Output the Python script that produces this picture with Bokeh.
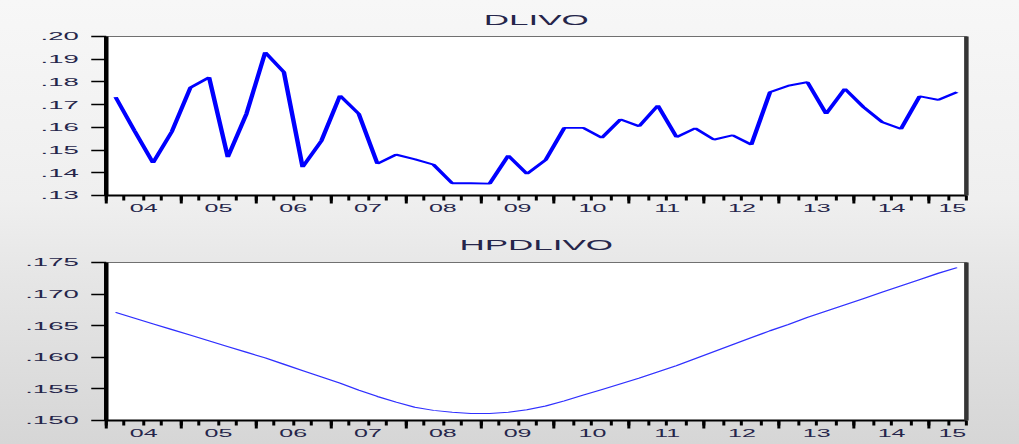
from bokeh.plotting import figure
from bokeh.models import Range1d, FixedTicker, LinearAxis, CustomJSTickFormatter, ColumnDataSource
from bokeh.layouts import column
from bokeh.embed import file_html
from bokeh.resources import INLINE

# Quarterly series, 2004Q1 - 2015Q2
year_labels = ["04", "05", "06", "07", "08", "09", "10", "11", "12", "13", "14", "15"]

dlivo = [0.1733, 0.1586, 0.1444, 0.1580, 0.1775, 0.1820, 0.1469, 0.1660,
         0.1930, 0.1843, 0.1425, 0.1540, 0.1740, 0.1660, 0.1440, 0.1480,
         0.1460, 0.1436, 0.1354, 0.1354, 0.1352, 0.1476, 0.1395, 0.1457,
         0.1598, 0.1598, 0.1554, 0.1635, 0.1605, 0.1696, 0.1557, 0.1596,
         0.1546, 0.1565, 0.1524, 0.1755, 0.1784, 0.1799, 0.1660, 0.1770,
         0.1689, 0.1623, 0.1593, 0.1737, 0.1721, 0.1755]

hpdlivo = [0.1671, 0.1662, 0.1653, 0.1644, 0.1635, 0.1626, 0.1617, 0.1608,
           0.1599, 0.1589, 0.1579, 0.1569, 0.1559, 0.1548, 0.1538, 0.1529,
           0.1521, 0.1516, 0.1513, 0.1511, 0.1511, 0.1513, 0.1517, 0.1523,
           0.1531, 0.1540, 0.1549, 0.1558, 0.1567, 0.1577, 0.1587, 0.1598,
           0.1609, 0.1620, 0.1631, 0.1642, 0.1652, 0.1663, 0.1673, 0.1683,
           0.1693, 0.1703, 0.1713, 0.1723, 0.1733, 0.1742]

dlivo_ticks = [0.13, 0.14, 0.15, 0.16, 0.17, 0.18, 0.19, 0.20]
hp_ticks = [0.150, 0.155, 0.160, 0.165, 0.170, 0.175]

n_obs = len(dlivo)
x_pos = [i + 0.5 for i in range(n_obs)]          # observation at middle of its quarter
year_bounds = list(range(0, n_obs + 1, 4))        # long ticks at year starts
quarter_bounds = list(range(0, n_obs + 1))        # short ticks at every quarter
label_pos = [4 * k + 2 for k in range(len(year_labels) - 1)] + [45.25]

# The page is drawn narrow and widened with a horizontal CSS stretch.
# Bokeh sizes the canvas from the element's on-screen box, which already
# includes the stretch, so the figure width takes it twice.
PAGE_W = 1019
CSS_W = 163
STRETCH = (PAGE_W / CSS_W) ** 0.5
FONT = "Liberation Sans"
TEXT_COLOR = "#25254a"


def panel(title, values, ticks, ndec, top, bottom, standoff, color, lw):
    p = figure(width=CSS_W, height=222, output_backend="svg", toolbar_location=None,
               x_range=Range1d(0, n_obs), y_range=Range1d(ticks[0], ticks[-1]),
               x_axis_location=None, y_axis_location=None,
               min_border_left=42, min_border_right=21,
               min_border_top=top, min_border_bottom=bottom)
    p.background_fill_color = "white"
    p.border_fill_alpha = 0
    p.outline_line_color = "#707070"
    p.outline_line_width = 1
    p.xgrid.visible = False
    p.ygrid.visible = False

    p.title.text = title
    p.title.align = "center"
    p.title.text_font = FONT
    p.title.text_font_size = "14px"
    p.title.text_font_style = "normal"
    p.title.text_color = TEXT_COLOR
    p.title.standoff = standoff

    # left value axis
    ya = LinearAxis(ticker=FixedTicker(ticks=ticks),
                    formatter=CustomJSTickFormatter(
                        code="return tick.toFixed(%d).replace(/^0/, '');" % ndec),
                    major_tick_out=6, major_tick_in=0, minor_tick_out=0, minor_tick_in=0,
                    major_tick_line_width=1.3, axis_line_width=1.8,
                    major_label_standoff=5, major_label_text_font=FONT,
                    major_label_text_font_size="11px", major_label_text_color=TEXT_COLOR)
    p.add_layout(ya, "left")

    # quarter / year tick marks
    xa = LinearAxis(ticker=FixedTicker(ticks=year_bounds, minor_ticks=quarter_bounds),
                    formatter=CustomJSTickFormatter(code="return '';"),
                    major_tick_out=8, major_tick_in=0, minor_tick_out=5, minor_tick_in=0,
                    major_tick_line_width=1.2, minor_tick_line_width=1.2,
                    axis_line_width=1.8, major_label_standoff=0,
                    major_label_text_font_size="1px")
    p.add_layout(xa, "below")

    # year labels centred in each year
    xl = LinearAxis(ticker=FixedTicker(ticks=label_pos),
                    formatter=CustomJSTickFormatter(
                        args=dict(pos=label_pos, labels=year_labels),
                        code="const i = pos.indexOf(tick); return i < 0 ? '' : labels[i];"),
                    axis_line_color=None, major_tick_line_color=None,
                    minor_tick_line_color=None, major_tick_out=0, major_tick_in=0,
                    major_label_standoff=1, major_label_text_font=FONT,
                    major_label_text_font_size="10px", major_label_text_color=TEXT_COLOR)
    p.add_layout(xl, "below")

    # dark right edge of the frame
    ra = LinearAxis(ticker=FixedTicker(ticks=[]),
                    formatter=CustomJSTickFormatter(code="return '';"),
                    axis_line_color="#353535", axis_line_width=1.8,
                    major_tick_line_color=None, minor_tick_line_color=None,
                    major_label_text_font_size="1px", major_label_standoff=0)
    p.add_layout(ra, "right")

    src = ColumnDataSource(data=dict(x=x_pos, y=values))
    p.line(x="x", y="y", source=src, line_color=color, line_width=lw)
    return p


p1 = panel("DLIVO", dlivo, dlivo_ticks, 2, 36, 27, 17, "#0000ff", 1.8)
p2 = panel("HPDLIVO", hpdlivo, hp_ticks, 3, 40, 24, 19, "#3030ff", 1.0)

layout = column(p1, p2, width=int(round(PAGE_W / STRETCH)), styles={
    "transform": "scaleX(%.5f)" % STRETCH,
    "transform-origin": "0 0",
    "background": "linear-gradient(to bottom, #f7f7f7 0%, #efefef 45%, #e6e6e6 62%, #d6d6d6 100%)",
})

open("out.html", "w").write(file_html(layout, INLINE))
